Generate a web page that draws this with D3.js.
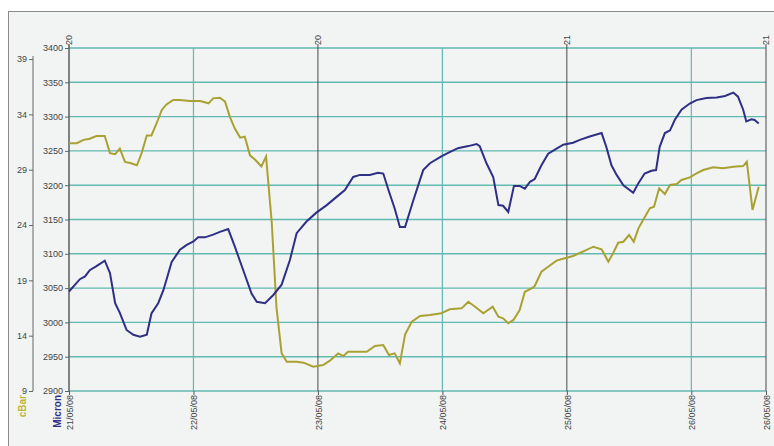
<!DOCTYPE html>
<html>
<head>
<meta charset="utf-8">
<script src="https://cdn.jsdelivr.net/npm/d3@7"></script>
<style>
  body { margin: 0; background: #fff; }
  svg { display: block; }
  .lbl { font-family: "Liberation Sans", Arial, sans-serif; font-size: 9px; fill: #444; }
</style>
</head>
<body>
<svg id="chart" width="774" height="446"></svg>
<script>
// hours since 21/05/08 00:00
var micronHours = [0,2.1,3.1,4.0,5.3,6.9,7.9,8.9,9.8,11.1,12.4,13.7,15.0,15.9,17.2,18.2,19.8,21.4,22.7,24.0,
  24.9,26.2,27.8,29.1,30.7,32.0,33.6,35.2,36.2,37.8,39.4,41.0,42.6,43.9,45.8,47.7,49.7,51.6,53.2,54.8,
  56.1,58.0,59.6,60.6,61.6,62.8,63.8,64.8,66.4,68.3,69.6,71.8,73.1,75.0,77.0,78.6,79.2,80.5,81.8,82.8,
  83.7,84.7,85.8,86.9,87.9,88.9,89.8,91.1,92.4,93.7,95.3,97.2,98.5,100.4,102.7,103.6,104.6,105.6,106.9,108.8,
  109.8,111.0,112.3,113.2,113.9,114.9,115.9,116.8,118.1,119.7,121.0,122.9,124.9,126.5,128.1,129.0,130.0,130.6,131.6,132.2,133.0];
var micronValues = [3045,3063,3067,3076,3082,3090,3072,3028,3014,2989,2982,2979,2982,3013,3028,3047,3088,3106,3113,3118,
  3124,3124,3128,3132,3136,3110,3076,3042,3030,3028,3040,3055,3091,3130,3147,3160,3171,3183,3193,3212,
  3215,3215,3218,3217,3193,3166,3139,3139,3178,3222,3232,3242,3247,3254,3257,3260,3257,3232,3212,3171,
  3170,3161,3199,3199,3195,3205,3209,3229,3246,3252,3259,3262,3266,3271,3276,3256,3229,3215,3200,3189,
  3203,3217,3221,3222,3256,3276,3280,3295,3310,3319,3324,3327,3328,3330,3335,3329,3310,3293,3296,3295,3290];

var cbarHours = [0,1.5,2.8,4.0,5.3,6.9,7.9,8.9,9.8,10.8,11.8,13.1,14.0,15.0,15.9,16.9,17.9,18.8,20.1,21.4,
  23.3,25.3,26.9,27.8,29.1,30.1,31.0,32.0,33.0,33.9,34.9,35.9,37.1,38.0,39.1,40.0,41.0,42.0,43.9,45.2,
  47.1,49.0,50.3,51.9,52.9,53.8,55.5,57.4,59.0,60.6,61.7,62.8,63.8,64.8,66.1,67.7,69.6,71.8,73.4,75.7,
  77.0,78.3,79.9,81.7,82.8,83.7,84.7,85.7,86.9,87.9,89.2,89.8,91.1,92.4,94.0,95.6,97.2,99.5,101.1,102.7,
  104.0,104.9,105.9,106.9,108.0,108.9,109.8,110.7,112.0,112.8,113.8,114.9,115.9,117.2,118.1,119.7,121.0,122.3,124.2,126.1,
  128.1,130.0,130.7,131.8,133.0];
var cbarValues = [31.4,31.4,31.7,31.8,32.05,32.05,30.5,30.4,30.9,29.7,29.6,29.4,30.5,32.1,32.1,33.2,34.4,34.9,35.3,35.3,
  35.2,35.2,35.0,35.45,35.5,35.15,33.8,32.7,31.9,31.98,30.3,29.9,29.3,30.2,24.2,16.6,12.4,11.65,11.65,11.56,
  11.2,11.35,11.74,12.4,12.16,12.55,12.55,12.55,13.07,13.16,12.25,12.4,11.5,14.1,15.26,15.78,15.87,16.02,16.38,16.47,
  17.07,16.62,16.02,16.62,15.71,15.57,15.12,15.42,16.32,17.97,18.28,18.49,19.78,20.23,20.78,20.99,21.2,21.68,22.04,21.8,
  20.69,21.44,22.4,22.49,23.1,22.49,23.7,24.45,25.51,25.66,27.32,26.8,27.62,27.71,28.07,28.31,28.67,28.97,29.22,29.13,
  29.27,29.33,29.72,25.36,27.46];

var dayHours = [0, 24, 48, 72, 96, 120, 134.4];
var dayLabels = ["21/05/08", "22/05/08", "23/05/08", "24/05/08", "25/05/08", "26/05/08", "26/05/08"];
var weekHours = [0, 48, 96, 134.4];
var weekLabels = ["20", "20", "21", "21"];
var micronTicks = [2900, 2950, 3000, 3050, 3100, 3150, 3200, 3250, 3300, 3350, 3400];
var cbarTicks = [9, 14, 19, 24, 29, 34, 39];

var svg = d3.select("#chart");
var plotLeft = 69, plotRight = 766, plotTop = 48, plotBottom = 391;

var x = d3.scaleLinear().domain([0, 134.4]).range([plotLeft, plotRight]);
var yM = d3.scaleLinear().domain([2900, 3400]).range([plotBottom, plotTop]);
var yC = d3.scaleLinear().domain([9, 40]).range([plotBottom, plotTop]);

var teal = "#62b9b1", micronColor = "#2f2f86", cbarColor = "#a9a233";

// frame
svg.append("rect")
    .attr("x", 8.5).attr("y", 11.5)
    .attr("width", 780).attr("height", 450)
    .attr("fill", "#f1f4f3")
    .attr("stroke", "#8a8a8a");

// horizontal grid
svg.append("g")
  .selectAll("line")
  .data(micronTicks)
  .enter().append("line")
    .attr("x1", plotLeft).attr("x2", plotRight)
    .attr("y1", function(d) { return yM(d); })
    .attr("y2", function(d) { return yM(d); })
    .attr("stroke", teal)
    .attr("stroke-width", 1.4);

// vertical day lines
svg.append("g")
  .selectAll("line")
  .data(dayHours)
  .enter().append("line")
    .attr("x1", function(d) { return x(d); })
    .attr("x2", function(d) { return x(d); })
    .attr("y1", plotTop).attr("y2", plotBottom)
    .attr("stroke", function(d) { return weekHours.indexOf(d) >= 0 ? "#4a4a4a" : teal; })
    .attr("stroke-width", function(d) { return weekHours.indexOf(d) >= 0 ? 1 : 1.2; });

// week labels on top
svg.append("g")
  .selectAll("text")
  .data(weekHours)
  .enter().append("text")
    .attr("class", "lbl")
    .attr("transform", function(d) { return "translate(" + (x(d) + 3) + "," + (plotTop - 3) + ") rotate(-90)"; })
    .attr("text-anchor", "start")
    .text(function(d, i) { return weekLabels[i]; });
svg.append("g")
  .selectAll("line")
  .data(weekHours)
  .enter().append("line")
    .attr("x1", function(d) { return x(d); })
    .attr("x2", function(d) { return x(d); })
    .attr("y1", plotTop - 4).attr("y2", plotTop)
    .attr("stroke", "#4a4a4a");

// Micron axis
var micronAxis = svg.append("g")
    .attr("transform", "translate(" + plotLeft + ",0)")
    .call(d3.axisLeft(yM).tickValues(micronTicks).tickSize(4).tickPadding(2).tickFormat(d3.format("d")));
micronAxis.select(".domain").attr("stroke", "#666").attr("d", "M0," + (plotTop - 4) + "V" + plotBottom);
micronAxis.selectAll("line").attr("stroke", "#666");
micronAxis.selectAll("text").attr("class", "lbl").attr("font-size", null).attr("font-family", null);

// cBar axis
var cbarAxis = svg.append("g")
    .attr("transform", "translate(33,0)")
    .call(d3.axisLeft(yC).tickValues(cbarTicks).tickSize(4).tickPadding(2));
cbarAxis.select(".domain").attr("stroke", "#666").attr("d", "M0," + (yC(39) - 3) + "V" + plotBottom);
cbarAxis.selectAll("line").attr("stroke", "#666");
cbarAxis.selectAll("text").attr("class", "lbl").attr("font-size", null).attr("font-family", null);

// date axis
var dateAxis = svg.append("g")
    .attr("transform", "translate(0," + plotBottom + ")")
    .call(d3.axisBottom(x).tickValues(dayHours).tickSize(4)
      .tickFormat(function(d, i) { return dayLabels[i]; }));
dateAxis.select(".domain").remove();
dateAxis.selectAll("line").attr("stroke", "#555");
dateAxis.selectAll("text")
    .attr("class", "lbl").attr("font-size", null).attr("font-family", null)
    .attr("text-anchor", "end")
    .attr("dy", "0.35em")
    .attr("transform", "translate(0,4) rotate(-90)")
    .attr("x", 0).attr("y", 0);

// axis titles
svg.append("text")
    .attr("transform", "translate(26,395) rotate(-90)")
    .attr("text-anchor", "end")
    .attr("font-family", "Liberation Sans, Arial, sans-serif")
    .attr("font-size", 10).attr("font-weight", "bold")
    .attr("fill", "#bdb43a")
    .text("cBar");
svg.append("text")
    .attr("transform", "translate(61,395) rotate(-90)")
    .attr("text-anchor", "end")
    .attr("font-family", "Liberation Sans, Arial, sans-serif")
    .attr("font-size", 10).attr("font-weight", "bold")
    .attr("fill", micronColor)
    .text("Micron");

// lines
var cbarLine = d3.line()
    .x(function(d, i) { return x(cbarHours[i]); })
    .y(function(d) { return yC(d); });
var micronLine = d3.line()
    .x(function(d, i) { return x(micronHours[i]); })
    .y(function(d) { return yM(d); });

svg.append("path")
    .datum(cbarValues)
    .attr("d", cbarLine)
    .attr("fill", "none")
    .attr("stroke", cbarColor)
    .attr("stroke-width", 2);
svg.append("path")
    .datum(micronValues)
    .attr("d", micronLine)
    .attr("fill", "none")
    .attr("stroke", micronColor)
    .attr("stroke-width", 2);
</script>
</body>
</html>
